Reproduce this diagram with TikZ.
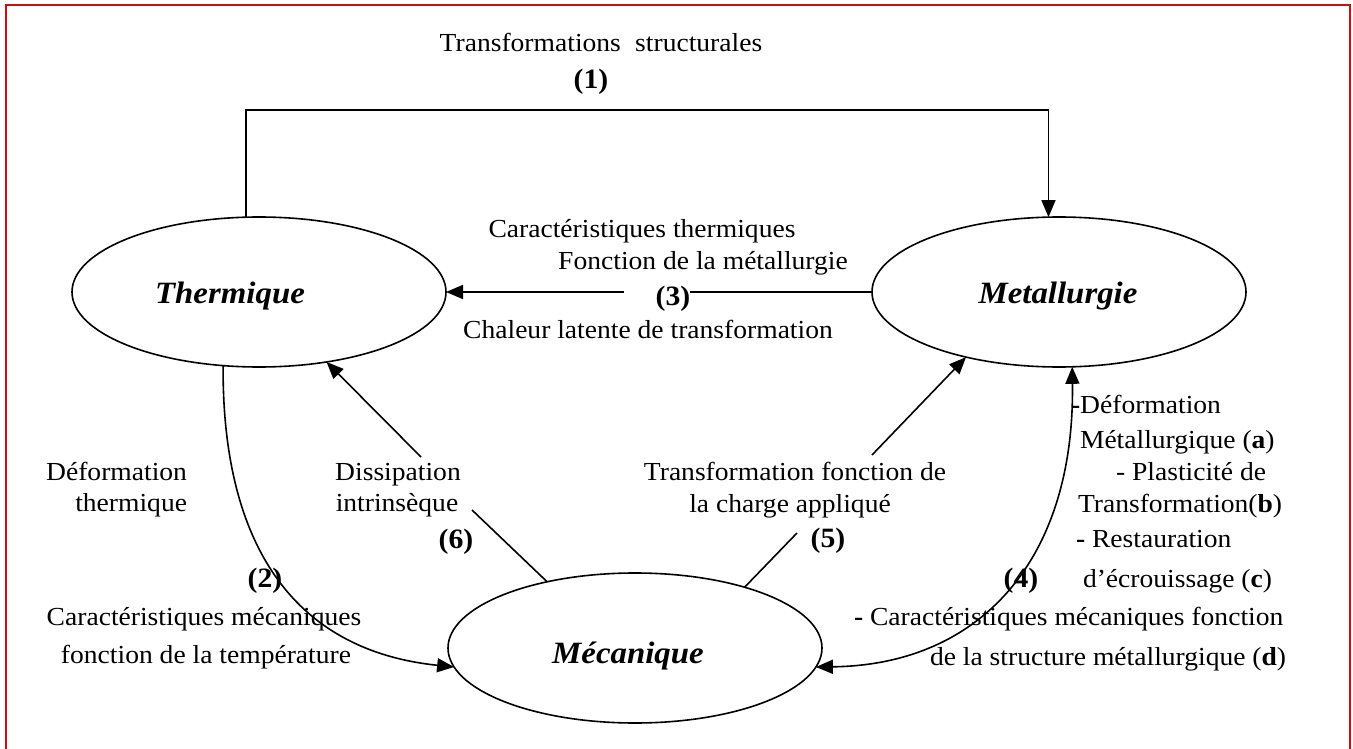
\documentclass[tikz,border=0pt]{standalone}
\usepackage{fontspec}
\setmainfont{Liberation Serif}[FakeStretch=1.06]
\usetikzlibrary{arrows.meta,shapes.geometric,calc}
\definecolor{framecol}{RGB}{204,16,16}
\begin{document}
\begin{tikzpicture}[x=1pt,y=-1pt,
  every node/.style={inner sep=0pt, outer sep=0pt},
  body/.style={font=\fontsize{26}{30}\selectfont, anchor=base},
  bodyl/.style={font=\fontsize{26}{30}\selectfont, anchor=base west},
  bodyr/.style={font=\fontsize{26}{30}\selectfont, anchor=base east},
  num/.style={font=\fontsize{28}{32}\selectfont\bfseries, anchor=base},
  domnode/.style={draw, ellipse, line width=1.6pt, minimum width=374pt, minimum height=150pt},
  ttl/.style={font=\fontsize{31}{36}\selectfont\bfseries\itshape, anchor=base},
  link/.style={line width=1.6pt},
  arr/.style={link, -{Triangle[length=17pt,width=14pt]}},
  arrr/.style={link, {Triangle[length=17pt,width=14pt]}-{Triangle[length=17pt,width=14pt]}},
]
\useasboundingbox (0,0) rectangle (1353,749);
\fill[white] (0,0) rectangle (1353,749);
\draw[framecol, line width=2.5pt] (6,5) rectangle (1350,780);

% domains
\node[domnode] (th) at (259,292) {};
\node[domnode] (me) at (1059,292) {};
\node[domnode] (mc) at (635,648) {};
\node[ttl] (thl) at (230,303) {Thermique};
\node[ttl] (mel) at (1058,303) {Metallurgie};
\node[ttl] (mcl) at (628,663) {Mécanique};

% (1)
\node[body] (t1) at (601,52) {Transformations\hspace{0.55em}structurales};
\node[num] (n1) at (591,89) {(1)};
\draw[arr] (th.100.6) -- ++(0,-107) -| (me.98.4);

% (3)
\node[body] (t3a) at (642,237) {Caractéristiques thermiques};
\node[body] (t3b) at (703,269) {Fonction de la métallurgie};
\node[num] (n3) at (673,305) {(3)};
\node[body] (t3c) at (648,338) {Chaleur latente de transformation};
\draw[link] (me.west) -- (n3.east |- me.west);
\draw[arr] ($(n3.west |- th.east)+(-32,0)$) -- (th.east);

% (2)
\node[bodyr] (t2a) at (187,480) {Déformation};
\node[bodyr] (t2b) at (187,511) {thermique};
\node[num] (n2) at (265,587) {(2)};
\node[body] (t2c) at (204,625) {Caractéristiques mécaniques};
\node[body] (t2d) at (206,663) {fonction de la température};
\draw[arr] (th.-116.7) .. controls (222,540) and (290,650) .. (mc.-174);

% (6)
\node[body] (t6a) at (398,480) {Dissipation};
\node[body] (t6b) at (397,511) {intrinsèque};
\node[num] (n6) at (456,548) {(6)};
\coordinate (c6a) at (472,510);
\coordinate (c6b) at (421,457);
\draw[link] (mc.143.7) -- (c6a);
\draw[arr] (c6b) -- (th.-46.6);

% (5)
\node[body] (t5a) at (795,480) {Transformation fonction de};
\node[body] (t5b) at (790,512) {la charge appliqué};
\node[num] (n5) at (828,547) {(5)};
\coordinate (c5a) at (797,533);
\coordinate (c5b) at (872,455);
\draw[link] (mc.29) -- (c5a);
\draw[arr] (c5b) -- (me.-145);

% (4)
\node[num] (n4) at (1021,587) {(4)};
\node[bodyl] (t4a) at (1071,413) {\textbf{-}Déformation};
\node[bodyl] (t4b) at (1080,448) {Métallurgique (\textbf{a})};
\node[bodyl] (t4c) at (1116,480) {- Plasticité de};
\node[bodyl] (t4d) at (1078,512) {Transformation(\textbf{b})};
\node[bodyl] (t4e) at (1076,547) {\textbf{-} Restauration};
\node[bodyl] (t4f) at (1083,587) {d’écrouissage (\textbf{c})};
\node[bodyl] (t4g) at (854,625) {\textbf{-} Caractéristiques mécaniques fonction};
\node[bodyl] (t4h) at (930,665) {de la structure métallurgique (\textbf{d})};
\draw[arrr] (mc.-6) .. controls (980,665) and (1075,560) .. (me.-80);
\end{tikzpicture}
\end{document}
